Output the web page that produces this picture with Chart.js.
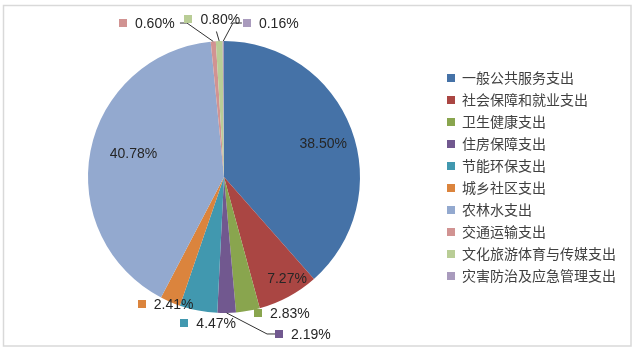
<!DOCTYPE html>
<html>
<head>
<meta charset="utf-8">
<script src="https://cdn.jsdelivr.net/npm/chart.js@4.4.1/dist/chart.umd.min.js"></script>
<style>
html,body{margin:0;padding:0;background:#fff;}
#wrap{width:640px;height:353px;position:relative;}
</style>
</head>
<body>
<div id="wrap"><canvas id="c" width="640" height="353"></canvas></div>
<script>
// ---- data ----
const categories = ['一般公共服务支出','社会保障和就业支出','卫生健康支出','住房保障支出','节能环保支出','城乡社区支出','农林水支出','交通运输支出','文化旅游体育与传媒支出','灾害防治及应急管理支出'];
const shares = [38.50, 7.27, 2.83, 2.19, 4.47, 2.41, 40.78, 0.60, 0.80, 0.16];
const colors = ['#4572A7','#AA4643','#89A54E','#71588F','#4198AF','#DB843D','#93A9CF','#D19392','#B9CD96','#A99BBD'];

// ---- label layout (offsets from each slice's outer mid point) ----
const labelMode = ['in','in','mark','mark','mark','mark','in','mark','mark','mark'];
const labelOffset = [[-28,15],[-1.5,-17.7],[10,2],[52.4,21],[-14,12.5],[-28.5,2],[43,3],[-90.3,-18.4],[-30.8,-21.6],[23.6,-18]];
// leader points relative to marker centre (empty = none)
const leaders = [[],[],[],[[-12,0],[-4,0]],[],[],[],[[64,0],[57,0]],[[28,12]],[[-14,0],[-5,0]]];

const framePlugin = {
  id:'frame',
  beforeDraw(chart){
    const c = chart.ctx;
    c.save();
    c.fillStyle='#fff';
    c.fillRect(0,0,chart.width,chart.height);
    c.strokeStyle='#d9d9d9';
    c.lineWidth=1.5;
    c.strokeRect(3.5,5.5,627.5,340.5);
    c.restore();
  }
};

const labelPlugin = {
  id:'pieLabels',
  afterDatasetsDraw(chart){
    const c = chart.ctx;
    const meta = chart.getDatasetMeta(0);
    c.save();
    c.font = '14px "Liberation Sans", Arial, sans-serif';
    c.textBaseline = 'middle';
    meta.data.forEach((arc,i)=>{
      const p = arc.getProps(['x','y','startAngle','endAngle','outerRadius'], true);
      const mid = (p.startAngle+p.endAngle)/2;
      const ox = p.x + Math.cos(mid)*p.outerRadius;
      const oy = p.y + Math.sin(mid)*p.outerRadius;
      const txt = shares[i].toFixed(2)+'%';
      const ax = ox + labelOffset[i][0];
      const ay = oy + labelOffset[i][1];
      if(labelMode[i]==='in'){
        c.fillStyle='#262626';
        c.textAlign='center';
        c.fillText(txt, ax, ay);
      } else {
        const L = leaders[i];
        if(L.length){
          c.strokeStyle='#333';
          c.lineWidth=1;
          c.beginPath();
          c.moveTo(ox,oy);
          L.forEach(pt=>c.lineTo(ax+pt[0], ay+pt[1]));
          c.stroke();
        }
        c.fillStyle=colors[i];
        c.fillRect(Math.round(ax-4), Math.round(ay-4), 8, 8);
        c.fillStyle='#262626';
        c.textAlign='left';
        c.fillText(txt, ax+12, ay+1);
      }
    });
    c.restore();
  }
};

new Chart(document.getElementById('c'), {
  type:'pie',
  data:{
    labels:categories,
    datasets:[{data:shares, backgroundColor:colors, borderWidth:0}]
  },
  options:{
    responsive:false,
    animation:false,
    layout:{padding:{left:9,right:14,top:41,bottom:40}},
    plugins:{
      tooltip:{enabled:false},
      legend:{
        position:'right',
        labels:{
          boxWidth:8, boxHeight:8, padding:8,
          color:'#404040',
          font:{family:'"Noto Sans CJK SC", sans-serif', size:14}
        }
      }
    }
  },
  plugins:[framePlugin,labelPlugin]
});
</script>
</body>
</html>
